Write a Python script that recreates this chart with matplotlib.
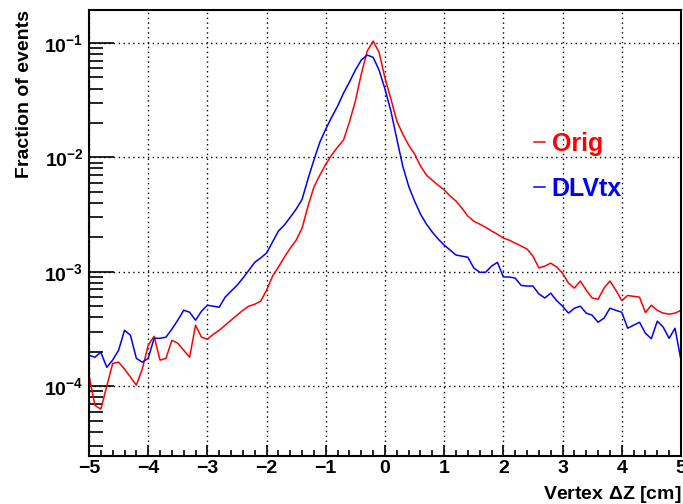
import matplotlib
matplotlib.use("Agg")
import matplotlib.pyplot as plt
import numpy as np
from matplotlib.ticker import MultipleLocator, LogLocator, NullFormatter

plt.rcParams['font.family'] = ['Liberation Sans', 'DejaVu Sans']
plt.rcParams['mathtext.fontset'] = 'custom'
plt.rcParams['mathtext.rm'] = 'Liberation Sans:bold'
plt.rcParams['mathtext.default'] = 'rm'

# vertex delta-Z sample points [cm]
dz = np.round(np.arange(-5.0, 5.01, 0.1), 2)

# fraction of events
orig = [1.24e-4, 6.8e-5, 6.3e-5, 1.0e-4, 1.58e-4, 1.62e-4, 1.41e-4, 1.20e-4, 1.02e-4, 1.41e-4,
        2.28e-4, 2.73e-4, 1.69e-4, 1.75e-4, 2.52e-4, 2.37e-4, 2.06e-4, 1.79e-4, 3.41e-4, 2.68e-4,
        2.57e-4, 2.84e-4, 3.08e-4, 3.41e-4, 3.77e-4, 4.17e-4, 4.61e-4, 5.0e-4, 5.2e-4, 5.53e-4,
        6.9e-4, 9.15e-4, 1.10e-3, 1.34e-3, 1.61e-3, 1.89e-3, 2.41e-3, 3.75e-3, 5.5e-3, 7.0e-3,
        8.7e-3, 1.05e-2, 1.23e-2, 1.42e-2, 2.04e-2, 3.11e-2, 5.36e-2, 8.5e-2, 0.104, 8.3e-2,
        4.94e-2, 3.24e-2, 2.08e-2, 1.60e-2, 1.28e-2, 1.07e-2, 8.4e-3, 7.0e-3, 6.3e-3, 5.7e-3,
        5.2e-3, 4.6e-3, 4.15e-3, 3.6e-3, 3.06e-3, 2.77e-3, 2.61e-3, 2.45e-3, 2.27e-3, 2.13e-3,
        1.97e-3, 1.89e-3, 1.78e-3, 1.68e-3, 1.58e-3, 1.37e-3, 1.08e-3, 1.12e-3, 1.19e-3, 1.10e-3,
        9.7e-4, 7.95e-4, 7.2e-4, 8.3e-4, 6.9e-4, 5.9e-4, 5.75e-4, 7.2e-4, 8.3e-4, 6.9e-4,
        5.6e-4, 6.2e-4, 6.1e-4, 6.0e-4, 4.4e-4, 5.1e-4, 4.6e-4, 4.35e-4, 4.26e-4, 4.35e-4,
        4.6e-4]

dlvtx = [1.86e-4, 1.79e-4, 1.98e-4, 1.46e-4, 1.69e-4, 2.06e-4, 3.08e-4, 2.79e-4, 1.75e-4, 1.62e-4,
         1.75e-4, 2.62e-4, 2.62e-4, 2.68e-4, 3.15e-4, 3.77e-4, 4.61e-4, 4.43e-4, 3.77e-4, 4.52e-4,
         5.1e-4, 5.0e-4, 4.9e-4, 6.0e-4, 6.77e-4, 7.6e-4, 8.8e-4, 1.03e-3, 1.21e-3, 1.32e-3,
         1.46e-3, 1.82e-3, 2.27e-3, 2.56e-3, 3.0e-3, 3.53e-3, 4.3e-3, 6.5e-3, 9.5e-3, 1.36e-2,
         1.77e-2, 2.25e-2, 2.81e-2, 3.65e-2, 4.56e-2, 5.8e-2, 7.1e-2, 7.85e-2, 7.5e-2, 5.8e-2,
         3.96e-2, 2.54e-2, 1.45e-2, 8.4e-3, 5.6e-3, 4.15e-3, 3.19e-3, 2.61e-3, 2.22e-3, 1.93e-3,
         1.71e-3, 1.55e-3, 1.40e-3, 1.37e-3, 1.34e-3, 1.08e-3, 9.9e-4, 9.9e-4, 1.12e-3, 1.21e-3,
         9.0e-4, 9.0e-4, 8.8e-4, 7.6e-4, 7.5e-4, 7.5e-4, 6.4e-4, 5.9e-4, 6.5e-4, 5.6e-4,
         5.0e-4, 4.35e-4, 4.8e-4, 5.0e-4, 4.35e-4, 4.17e-4, 3.62e-4, 3.93e-4, 4.8e-4, 4.6e-4,
         4.43e-4, 3.21e-4, 3.41e-4, 3.62e-4, 2.9e-4, 2.6e-4, 3.7e-4, 3.28e-4, 2.62e-4, 3.21e-4,
         1.69e-4]

fig = plt.figure(figsize=(6.83, 5.04), dpi=100)
ax = fig.add_axes([0.1303, 0.0952, 0.8667, 0.8853])

ax.plot(dz, orig, color='#ff0000', lw=1.1, label='Orig')
ax.plot(dz, dlvtx, color='#0000ff', lw=1.1, label='DLVtx')

ax.set_yscale('log')
ax.set_xlim(-5, 5)
ax.set_ylim(2.45e-5, 0.195)

ax.xaxis.set_major_locator(MultipleLocator(1))
ax.xaxis.set_minor_locator(MultipleLocator(0.2))
ax.yaxis.set_major_locator(LogLocator(base=10))
ax.yaxis.set_minor_locator(LogLocator(base=10, subs=np.arange(2, 10)))
ax.yaxis.set_minor_formatter(NullFormatter())

ax.tick_params(which='both', direction='in', top=False, right=False, width=1.2)
ax.tick_params(axis='x', which='major', length=8, labelsize=14, pad=3)
ax.tick_params(axis='x', which='minor', length=4)
ax.tick_params(axis='y', which='major', length=18, labelsize=14, pad=4)
ax.tick_params(axis='y', which='minor', length=10)
for lab in ax.get_xticklabels() + ax.get_yticklabels():
    lab.set_fontweight('bold')

ax.grid(True, which='major', color='black', linestyle=(0, (1, 2.5)), linewidth=1.0)
for s in ax.spines.values():
    s.set_linewidth(1.5)

ax.set_xlabel('Vertex $\\Delta$Z [cm]', fontsize=14, fontweight='bold', loc='right', labelpad=5)
ax.set_ylabel('Fraction of events', fontsize=14, fontweight='bold', loc='top', labelpad=8)

leg = ax.legend(loc='upper left', bbox_to_anchor=(0.752, 0.727), frameon=False,
                handlelength=0.45, handletextpad=0.25, labelcolor='linecolor',
                borderpad=0, borderaxespad=0,
                prop={'family': 'Liberation Sans', 'weight': 'bold', 'size': 18},
                labelspacing=0.85)

fig.savefig('out.png', dpi=100)
